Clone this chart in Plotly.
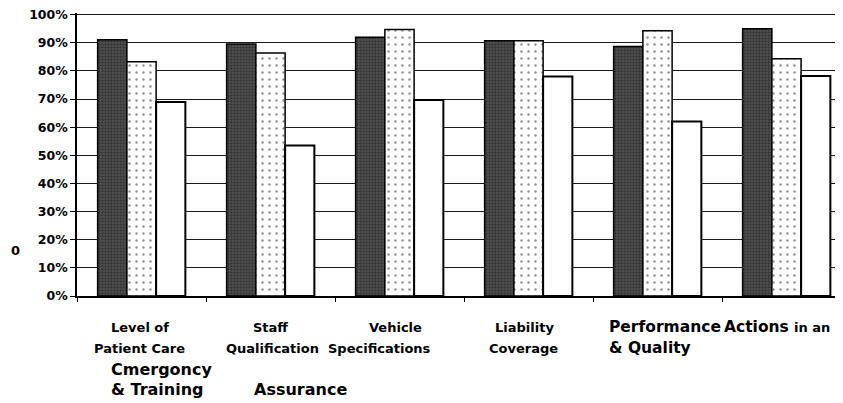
import plotly.graph_objects as go

categories = ["Level of Patient Care", "Staff Qualification", "Vehicle Specifications",
              "Liability Coverage", "Performance & Quality", "Actions in an"]
series_dark = [91.1, 89.6, 92.0, 90.7, 88.7, 95.0]
series_dotted = [83.3, 86.4, 94.7, 90.7, 94.3, 84.3]
series_white = [69.0, 53.5, 69.7, 78.0, 62.0, 78.2]
y_ticks = [0, 10, 20, 30, 40, 50, 60, 70, 80, 90, 100]
y_tick_labels = [f"{v}%" for v in y_ticks]

# label fragments as printed (text, font size)
label_texts = [
    ("Level of", 13), ("Patient Care", 13), ("Cmergoncy", 16), ("& Training", 16),
    ("Staff", 13), ("Qualification", 13), ("Assurance", 16),
    ("Vehicle", 13), ("Specifications", 13),
    ("Liability", 13), ("Coverage", 13),
    ("Performance", 15.5), ("Actions", 15.5), ("in an", 13), ("& Quality", 15.5),
]
# page-pixel anchors (left x, center y) for each fragment
label_pos = [
    (109, 327), (92, 348), (109, 369), (109, 389),
    (251, 327), (224, 348), (252, 389),
    (367, 327), (326, 348),
    (493, 327), (487, 348),
    (607, 327), (722, 327), (792, 327), (607, 348),
]

# page offset of the figure (default body margin)
OFF = 8
Y_TOP = 100.6                               # range top, slightly above 100% so the top grid shows
PX_PER_UNIT = (296 - 15) / 100.0
PL, PR, PB = 77, 851, 296                   # plot area in page pixels (extends past the window)
PT = 15 - (Y_TOP - 100) * PX_PER_UNIT
W, H = PR - OFF, 403 - OFF

fig = go.Figure()
fig.add_trace(go.Bar(
    x=categories, y=series_dark, name="A",
    marker=dict(color="#3a3a3a", line=dict(color="black", width=1.5),
                pattern=dict(shape=".", fgcolor="#111111", bgcolor="#555555", size=3, solidity=0.5)),
))
fig.add_trace(go.Bar(
    x=categories, y=series_dotted, name="B",
    marker=dict(color="white", line=dict(color="black", width=1.5),
                pattern=dict(shape=".", fgcolor="#222222", bgcolor="white", size=7, solidity=0.1)),
))
fig.add_trace(go.Bar(
    x=categories, y=series_white, name="C",
    marker=dict(color="white", line=dict(color="black", width=2)),
))

annotations = []
for (txt, fs), (px, py) in zip(label_texts, label_pos):
    annotations.append(dict(
        text=f"<b>{txt}</b>", xref="paper", yref="paper",
        x=(px - PL) / (PR - PL), y=(PB - py) / (PB - PT),
        xanchor="left", yanchor="middle", showarrow=False,
        font=dict(family="DejaVu Sans", size=fs, color="black"),
    ))
annotations.append(dict(
    text="<b>0</b>", xref="paper", yref="paper",
    x=(15 - PL) / (PR - PL), y=(PB - 251) / (PB - PT),
    xanchor="center", yanchor="middle", showarrow=False,
    font=dict(family="DejaVu Sans", size=13, color="black"),
))

fig.update_layout(
    width=W, height=H,
    margin=dict(l=PL - OFF, r=0, t=PT - OFF, b=H - (PB - OFF), pad=0, autoexpand=False),
    paper_bgcolor="white", plot_bgcolor="white",
    barmode="group", bargap=0.32, bargroupgap=0,
    showlegend=False,
    font=dict(family="DejaVu Sans", color="black"),
    annotations=annotations,
)
fig.update_yaxes(
    range=[0, Y_TOP], tickvals=y_ticks, ticktext=[f"<b>{t}</b>" for t in y_tick_labels],
    tickfont=dict(family="DejaVu Sans", size=12.5, color="black"),
    ticklabeloverflow="allow",
    showgrid=True, gridcolor="#1a1a1a", gridwidth=1.2,
    showline=True, linecolor="black", linewidth=1.5,
    ticks="outside", ticklen=5, tickcolor="black", tickwidth=1.2,
    zeroline=False, fixedrange=True, automargin=False,
)
fig.update_xaxes(
    showticklabels=False, tickson="boundaries", ticks="outside", ticklen=4,
    tickcolor="black", tickwidth=1,
    showline=True, linecolor="black", linewidth=2, showgrid=False, automargin=False,
)
fig.write_html("out.html")
